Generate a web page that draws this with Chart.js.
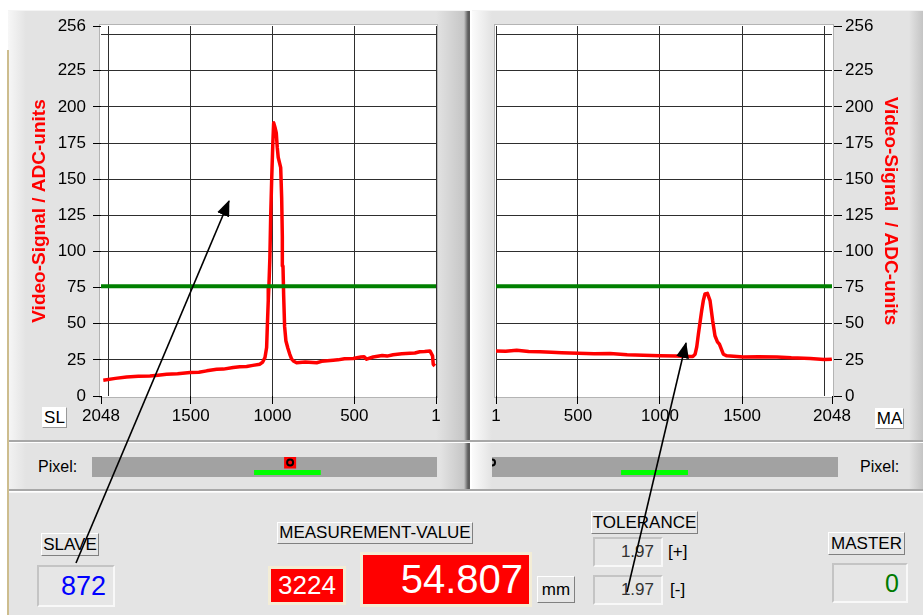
<!DOCTYPE html>
<html>
<head>
<meta charset="utf-8">
<script src="https://cdn.jsdelivr.net/npm/chart.js@4.4.1/dist/chart.umd.min.js"></script>
<style>
  html, body { margin: 0; padding: 0; background: #fff; }
  body { width: 923px; height: 615px; position: relative; overflow: hidden;
         font-family: "Liberation Sans", Arial, sans-serif; }
  .abs { position: absolute; }
  .panel { position: absolute; background: #e3e3e3; }
  #graphL { left: 8px; top: 10px; width: 462px; height: 430px;
    background: linear-gradient(to right, #f7f7f7 0px, #e3e3e3 18px, #e3e3e3 calc(100% - 34px), #c6c6c6 calc(100% - 6px), #5c5c5c calc(100% - 2px), #5c5c5c 100%);
    border-top: 1px solid #f4f4f4; }
  #graphR { left: 472px; top: 10px; width: 451px; height: 430px;
    background: linear-gradient(to right, #fbfbfb 0px, #e3e3e3 20px, #e3e3e3 calc(100% - 14px), #c4c4c4 100%);
    border-top: 1px solid #f4f4f4; }
  #pixL { left: 8px; top: 443px; width: 462px; height: 46px;
    background: linear-gradient(to right, #f2f2f2 0px, #e3e3e3 18px, #e3e3e3 calc(100% - 30px), #c6c6c6 calc(100% - 6px), #5c5c5c calc(100% - 2px), #5c5c5c 100%); }
  #pixR { left: 472px; top: 443px; width: 451px; height: 46px;
    background: linear-gradient(to right, #fbfbfb 0px, #e3e3e3 20px, #e3e3e3 calc(100% - 14px), #c4c4c4 100%); }
  #bottom { left: 8px; top: 492px; width: 915px; height: 123px; background: #e4e4e4;
    border-top: 1px solid #f6f6f6; }
  .sepH { position: absolute; left: 8px; width: 915px; height: 2px; background: #a8a8a8; }
  #edge { left: 7px; top: 50px; width: 2px; height: 565px; background: #cdbd8e; }

  canvas { position: absolute; z-index: 1; }

  .btn { position: absolute; z-index: 2; box-sizing: border-box; background: #e6e6e6;
    border-top: 1px solid #fff; border-left: 1px solid #fff;
    border-right: 1px solid #808080; border-bottom: 1px solid #808080;
    font-size: 17px; color: #000; text-align: center; white-space: nowrap; }
  .field { position: absolute; z-index: 2; box-sizing: border-box; background: #e6e6e6;
    border-top: 2px solid #c4c4c4; border-left: 2px solid #c4c4c4;
    border-right: 2px solid #f8f8f8; border-bottom: 2px solid #f8f8f8;
    text-align: right; white-space: nowrap; }
  .redbox { position: absolute; z-index: 2; box-sizing: border-box; background: #ff0000;
    border: 3px solid #f3edd6; color: #fff; white-space: nowrap; }
  .lbl { position: absolute; z-index: 2; font-size: 16px; color: #000; white-space: nowrap; }
  .tag { position: absolute; z-index: 2; box-sizing: border-box; background: #fff;
    border-top: 1px solid #fff; border-left: 1px solid #fff;
    border-right: 1px solid #9a9a9a; border-bottom: 1px solid #9a9a9a;
    font-size: 17px; text-align: center; }
  #arrows { position: absolute; left: 0; top: 0; z-index: 5; pointer-events: none; }
</style>
</head>
<body>
<div class="panel" id="graphL"></div>
<div class="panel" id="graphR"></div>
<div class="sepH" style="top:440px"></div>
<div class="panel" id="pixL"></div>
<div class="panel" id="pixR"></div>
<div class="sepH" style="top:489px"></div>
<div class="panel" id="bottom"></div>
<div class="abs" id="edge"></div>

<canvas id="slaveChart" width="460" height="428" style="left:8px;top:10px;width:460px;height:428px"></canvas>
<canvas id="masterChart" width="451" height="428" style="left:472px;top:10px;width:451px;height:428px"></canvas>
<canvas id="slaveBar" width="345" height="20" style="left:92px;top:457px;width:345px;height:20px"></canvas>
<canvas id="masterBar" width="346" height="20" style="left:492px;top:457px;width:346px;height:20px"></canvas>

<div class="tag" style="left:42px;top:407px;width:25px;height:21px;line-height:20px">SL</div>
<div class="tag" style="left:875px;top:408px;width:29px;height:21px;line-height:20px">MA</div>
<div class="lbl" style="left:38px;top:458px">Pixel:</div>
<div class="lbl" style="left:860px;top:458px">Pixel:</div>

<div class="btn" style="left:41px;top:533px;width:58px;height:23px;line-height:21px">SLAVE</div>
<div class="field" id="slaveValue" style="left:37px;top:565px;width:78px;height:42px;line-height:38px;padding-right:7px;font-size:27px;color:#0000ff"></div>

<div class="btn" style="left:277px;top:522px;width:196px;height:22px;line-height:20px">MEASUREMENT-VALUE</div>
<div class="redbox" style="left:268px;top:566px;width:78px;height:39px;line-height:33px;font-size:26px;text-align:center">3224</div>
<div class="redbox" style="left:360px;top:552px;width:172px;height:55px;line-height:49px;font-size:40px;text-align:right;padding-right:6px">54.807</div>
<div class="btn" style="left:537px;top:576px;width:38px;height:27px;line-height:25px">mm</div>

<div class="btn" style="left:591px;top:511px;width:107px;height:23px;line-height:21px">TOLERANCE</div>
<div class="field" style="left:593px;top:537px;width:70px;height:30px;line-height:26px;padding-right:7px;font-size:17px;color:#333">1.97</div>
<div class="lbl" style="left:668px;top:542px;font-size:17px">[+]</div>
<div class="field" style="left:593px;top:575px;width:70px;height:30px;line-height:26px;padding-right:7px;font-size:17px;color:#333">1.97</div>
<div class="lbl" style="left:670px;top:580px;font-size:17px">[-]</div>

<div class="btn" style="left:828px;top:532px;width:77px;height:23px;line-height:21px">MASTER</div>
<div class="field" id="masterValue" style="left:832px;top:563px;width:76px;height:40px;line-height:36px;padding-right:7px;font-size:25px;color:#007a00"></div>

<svg id="arrows" width="923" height="615">
  <defs>
    <marker id="head" markerUnits="userSpaceOnUse" markerWidth="16" markerHeight="13" refX="15" refY="6.5" orient="auto">
      <path d="M0,0 L16,6.5 L0,13 z" fill="#000"/>
    </marker>
  </defs>
  <line x1="76" y1="563" x2="229" y2="201" stroke="#000" stroke-width="1.6" marker-end="url(#head)"/>
  <line x1="627" y1="592" x2="686" y2="343" stroke="#000" stroke-width="1.6" marker-end="url(#head)"/>
</svg>

<script>
// slave (left) video signal
const slavePixels = [8, 18, 22, 38, 70, 100, 130, 160, 210, 263, 300, 330, 385, 425, 440, 460, 507, 560, 600, 629, 700, 730, 800, 853, 870, 883, 895, 906, 918, 926, 932, 936, 940, 944, 950, 965, 971, 977, 985, 993, 998, 1005, 1011, 1016, 1022, 1026, 1032, 1036, 1046, 1060, 1077, 1120, 1158, 1200, 1240, 1300, 1341, 1402, 1450, 1504, 1580, 1647, 1700, 1749, 1820, 1891, 1960, 2034];
const slaveSignal = [20.8, 22, 27.8, 31.2, 30.8, 30.6, 29.8, 29.6, 29.2, 28.5, 27.6, 28, 27, 25.5, 27.2, 27, 26, 25.8, 25, 24.8, 24, 23, 23.5, 23, 24, 25.5, 29, 33, 38, 48, 70, 90, 110, 137, 158, 165, 172, 182, 186, 189, 175, 150, 125, 96, 76, 66, 47, 33.6, 26.6, 23.5, 22, 21.2, 20.4, 20.2, 19.7, 18.6, 18.5, 17.4, 16.4, 16.2, 15.4, 15, 14.4, 13.9, 13.6, 13.2, 12.2, 10.9];

// master (right) video signal
const masterPixels = [1, 60, 127, 200, 269, 340, 400, 500, 600, 696, 800, 898, 1000, 1100, 1183, 1200, 1214, 1224, 1234, 1254, 1264, 1274, 1289, 1305, 1321, 1335, 1350, 1362, 1386, 1407, 1508, 1600, 1712, 1800, 1915, 2000, 2047];
const masterSignal = [31.2, 31, 31.7, 30.8, 30.6, 30.2, 30, 29.6, 29.2, 29.4, 28.6, 28.2, 27.8, 27.6, 27.3, 27.4, 28.9, 34, 42.8, 59, 66, 70.6, 71, 66, 52, 41.7, 37.5, 35.9, 28.9, 27.8, 27, 27.2, 27, 26.4, 26, 25.2, 25.5];

const threshold = 76;

const yTickValues = [0, 25, 50, 75, 100, 125, 150, 175, 200, 225, 250, 256];
const xTickValues = [1, 500, 1000, 1500, 2000, 2048];
const yUnlabeled = [250];
const xUnlabeled = [2000];

// pixel bars below the graphs
const slaveWindow = [690, 1086];
const masterWindow = [764, 1160];
const slaveValue = 872;
const masterValue = 0;

document.getElementById("slaveValue").textContent = slaveValue;
document.getElementById("masterValue").textContent = masterValue;

const FONT = "'Liberation Sans', Arial, sans-serif";
const GRID = "#2e2e2e";
const NONE = "rgba(0,0,0,0)";

const plotFrame = {
  id: "plotFrame",
  beforeDraw(chart, args, opts) {
    const a = chart.chartArea;
    const ctx = chart.ctx;
    ctx.save();
    ctx.fillStyle = opts.background;
    ctx.fillRect(a.left - 1, a.top - 1, a.width + 2, a.height + 2);
    ctx.strokeStyle = opts.border;
    ctx.lineWidth = 1;
    ctx.strokeRect(a.left - 1.5, a.top - 1.5, a.width + 3, a.height + 3);
    ctx.restore();
  }
};

function points(xs, ys) {
  return xs.map(function (x, i) { return { x: x, y: ys[i] }; });
}

function signalChart(id, xs, ys, side) {
  var left = side === "left";
  return new Chart(document.getElementById(id), {
    type: "line",
    data: {
      datasets: [
        { data: [{ x: 1, y: threshold }, { x: 2048, y: threshold }], borderColor: "#008000", borderWidth: 4 },
        { data: points(xs, ys), borderColor: "#ff0000", borderWidth: 3.5, borderJoinStyle: "round" }
      ]
    },
    plugins: [plotFrame],
    options: {
      responsive: false,
      animation: false,
      events: [],
      elements: { point: { radius: 0 }, line: { tension: 0 } },
      layout: {
        autoPadding: false,
        padding: left ? { left: 0, right: 32, top: 16, bottom: 0 } : { left: 24, right: 0, top: 16, bottom: 0 }
      },
      plugins: {
        legend: { display: false },
        tooltip: { enabled: false },
        plotFrame: { background: "#ffffff", border: "#b4b4b4" }
      },
      scales: {
        x: {
          type: "linear",
          min: 1,
          max: 2048,
          reverse: left,
          afterBuildTicks: function (s) { s.ticks = xTickValues.map(function (v) { return { value: v }; }); },
          afterFit: function (s) { s.height = 42; },
          border: { display: false },
          grid: {
            color: function (c) { return c.tick && c.tick.value === 2048 ? NONE : GRID; },
            tickColor: function (c) { return c.tick && xUnlabeled.includes(c.tick.value) ? NONE : "#000"; },
            tickLength: 8,
            lineWidth: 1
          },
          ticks: {
            color: "#000",
            font: { family: FONT, size: 17 },
            padding: 2,
            maxRotation: 0,
            autoSkip: false,
            callback: function (v) { return xUnlabeled.includes(v) ? "" : String(v); }
          }
        },
        y: {
          position: side,
          min: 0,
          max: 256,
          afterBuildTicks: function (s) { s.ticks = yTickValues.map(function (v) { return { value: v }; }); },
          afterFit: function (s) { s.width = left ? 93 : 91; },
          border: { display: false },
          grid: {
            color: function (c) { return c.tick && (c.tick.value === 0 || c.tick.value === 256) ? NONE : GRID; },
            tickColor: function (c) { return c.tick && yUnlabeled.includes(c.tick.value) ? NONE : "#000"; },
            tickLength: left ? 12 : 10,
            tickBorderDash: left ? [0, 4, 8, 40] : [0, 2, 8, 40],
            lineWidth: 1
          },
          ticks: {
            color: "#000",
            font: { family: FONT, size: 17 },
            padding: 3,
            autoSkip: false,
            callback: function (v) { return yUnlabeled.includes(v) ? "" : String(v); }
          },
          title: {
            display: true,
            text: left ? "Video-Signal / ADC-units" : "Video-Signal  / ADC-units",
            color: "#ff0000",
            font: { family: FONT, size: 19, weight: "bold" },
            padding: { top: left ? 20.5 : 21.5, bottom: 0 }
          }
        }
      }
    }
  });
}

function pixelBar(id, win, marker, reverse, showMarker) {
  return new Chart(document.getElementById(id), {
    type: "line",
    data: {
      datasets: [
        { data: [{ x: marker, y: 0.725 }], showLine: false, pointRadius: 3, pointBorderWidth: 2,
          pointBorderColor: "#000", pointBackgroundColor: NONE },
        { data: showMarker ? [{ x: marker, y: 0.725 }] : [], showLine: false, pointStyle: "rect",
          pointRadius: 8.5, pointBorderWidth: 0, pointBackgroundColor: "#ff0000" },
        { data: [{ x: win[0], y: 0.225 }, { x: win[1], y: 0.225 }], borderColor: "#00ff00",
          borderWidth: 5, pointRadius: 0 }
      ]
    },
    plugins: [plotFrame],
    options: {
      responsive: false,
      animation: false,
      events: [],
      layout: { autoPadding: false, padding: 0 },
      plugins: {
        legend: { display: false },
        tooltip: { enabled: false },
        plotFrame: { background: "#a2a2a2", border: "#a2a2a2" }
      },
      scales: {
        x: { type: "linear", display: false, min: 0, max: 2048, reverse: reverse },
        y: { display: false, min: 0, max: 1 }
      }
    }
  });
}

signalChart("slaveChart", slavePixels, slaveSignal, "left");
signalChart("masterChart", masterPixels, masterSignal, "right");
pixelBar("slaveBar", slaveWindow, slaveValue, true, true);
pixelBar("masterBar", masterWindow, masterValue, false, false);
</script>
</body>
</html>
